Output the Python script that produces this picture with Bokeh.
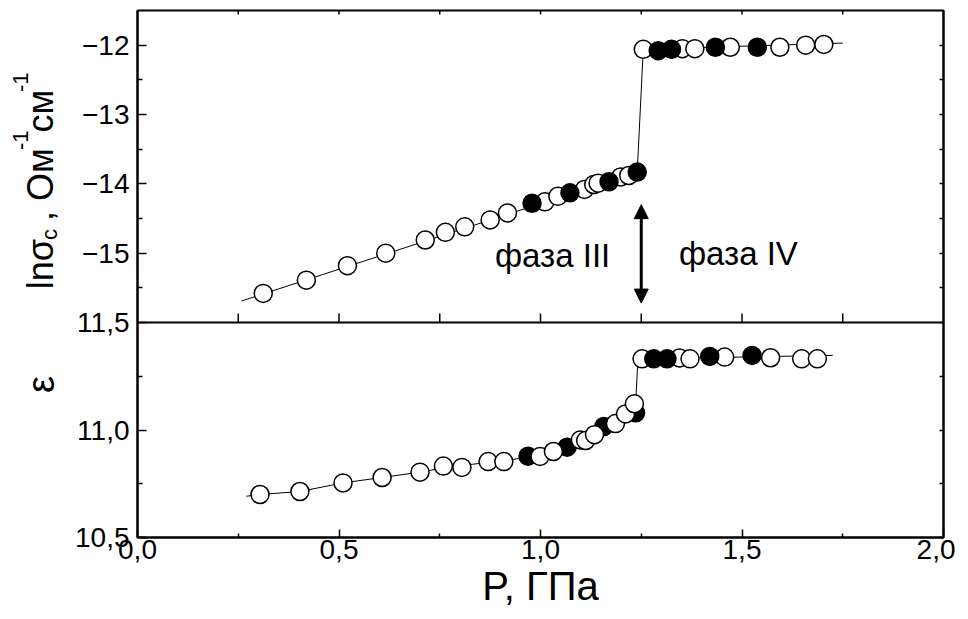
import math
from bokeh.plotting import figure
from bokeh.layouts import row
from bokeh.models import (Range1d, LinearAxis, FixedTicker, CustomJSTickFormatter,
                          Arrow, NormalHead, Span)
from bokeh.core.properties import value
from bokeh.embed import file_html
from bokeh.resources import INLINE

# ---------------- data ----------------
# upper panel: ln(sigma_c) vs P
top_open_P = [0.312, 0.419, 0.521, 0.616, 0.714, 0.764, 0.812, 0.875, 0.918, 1.011,
              1.043, 1.109, 1.132, 1.143, 1.199, 1.219,
              1.255, 1.352, 1.383, 1.471, 1.594, 1.658, 1.703]
top_open_ln = [-15.58, -15.39, -15.18, -15.00, -14.81, -14.70, -14.62, -14.52, -14.42, -14.26,
               -14.18, -14.08, -14.01, -13.99, -13.90, -13.88,
               -12.06, -12.05, -12.05, -12.03, -12.03, -12.00, -11.99]
top_filled_P = [0.979, 1.073, 1.170, 1.240, 1.292, 1.325, 1.434, 1.538]
top_filled_ln = [-14.28, -14.13, -13.97, -13.83, -12.08, -12.06, -12.03, -12.03]
top_line_P = [0.258, 1.240, 1.255, 1.750]
top_line_ln = [-15.69, -13.83, -12.06, -11.97]

# lower panel: epsilon vs P
bot_open_P = [0.304, 0.403, 0.510, 0.607, 0.701, 0.759, 0.805, 0.870, 0.909, 0.999,
              1.032, 1.099, 1.112, 1.134, 1.186, 1.211, 1.233,
              1.252, 1.345, 1.371, 1.457, 1.571, 1.648, 1.687]
bot_open_eps = [10.700, 10.714, 10.754, 10.779, 10.804, 10.832, 10.826, 10.853, 10.853, 10.877,
                10.900, 10.954, 10.951, 10.978, 11.030, 11.075, 11.122,
                11.331, 11.335, 11.331, 11.339, 11.336, 11.331, 11.331]
bot_filled_P = [0.969, 1.066, 1.157, 1.236, 1.281, 1.314, 1.420, 1.525]
bot_filled_eps = [10.878, 10.920, 11.016, 11.080, 11.331, 11.331, 11.342, 11.347]
bot_line_P = [0.270, 0.304, 0.403, 0.510, 0.607, 0.701, 0.780, 0.890, 0.985, 1.050,
              1.100, 1.150, 1.190, 1.225, 1.236, 1.241, 1.252, 1.725]
bot_line_eps = [10.692, 10.700, 10.714, 10.754, 10.779, 10.804, 10.830, 10.853, 10.877, 10.910,
                10.950, 10.990, 11.030, 11.080, 11.120, 11.300, 11.331, 11.347]
P_TRANSITION = 1.25

# ticks
x_major = [0.0, 0.5, 1.0, 1.5, 2.0]
x_labels = ["0,0", "0,5", "1,0", "1,5", "2,0"]
x_minor = [0.25, 0.75, 1.25, 1.75]
x_all = [0.25, 0.5, 0.75, 1.0, 1.25, 1.5, 1.75]
top_major = [-15.0, -14.0, -13.0, -12.0]
top_labels = ["\u221215", "\u221214", "\u221213", "\u221212"]
top_minor = [-15.5, -14.5, -13.5, -12.5]
bot_major = [10.5, 11.0, 11.5]
bot_labels = ["10,5", "11,0", "11,5"]
bot_minor = [10.75, 11.25]

phase_texts = ["фаза III", "фаза IV"]
x_title = "P, ГПа"
eps_title = "ε"

# ---------------- layout ----------------
FONT = "Liberation Sans"
TOTAL_H = 619
TITLE_W = 62
TOP_H, BOT_H, FRAME_W = 312, 215, 806
FRAME_TOP, FRAME_LEFT = 10, 137
top_lo, top_hi = -16.0, -11.5
bot_lo, bot_hi = 10.5, 11.5
bot_end = bot_hi + (bot_hi - bot_lo) * TOP_H / BOT_H
top_start = top_lo - (top_hi - top_lo) * BOT_H / TOP_H


def to_primary(v):
    return bot_hi + (v - top_lo) * (bot_end - bot_hi) / (top_hi - top_lo)


JS_LOOKUP = """
for (let i = 0; i < pos.length; i++) { if (Math.abs(pos[i] - tick) < 1e-6) return lab[i]; }
return '';"""

p = figure(frame_width=FRAME_W, frame_height=TOP_H + BOT_H,
           x_range=Range1d(0, 2), y_range=Range1d(bot_lo, bot_end),
           output_backend="svg", toolbar_location=None,
           x_axis_location=None, y_axis_location=None,
           min_border_left=FRAME_LEFT - TITLE_W, min_border_top=FRAME_TOP, min_border_right=12,
           min_border_bottom=TOTAL_H - FRAME_TOP - TOP_H - BOT_H)
p.extra_y_ranges = {"top": Range1d(top_start, top_hi)}
p.grid.grid_line_color = None
p.outline_line_color = "black"
p.outline_line_width = 2
p.background_fill_color = "white"
p.border_fill_color = "white"

# bottom axis
xax = LinearAxis(ticker=FixedTicker(ticks=x_major, minor_ticks=x_minor),
                 formatter=CustomJSTickFormatter(args=dict(pos=x_major, lab=x_labels), code=JS_LOOKUP))
xax.major_tick_in = 8
xax.major_tick_out = 0
xax.minor_tick_in = 4
xax.minor_tick_out = 0
xax.axis_line_width = 2
xax.major_tick_line_width = 1.5
xax.minor_tick_line_width = 1.5
xax.major_label_text_font = FONT
xax.major_label_text_font_size = "28px"
xax.major_label_text_color = "black"
xax.major_label_standoff = 2
xax.axis_label = x_title
xax.axis_label_text_font = FONT
xax.axis_label_text_font_size = "40px"
xax.axis_label_text_font_style = "normal"
xax.axis_label_text_color = "black"
xax.axis_label_standoff = 2
p.add_layout(xax, "below")

# left axis (both panels share one axis line)
left_ticks = bot_major + [to_primary(v) for v in top_major]
left_labels = bot_labels + top_labels
left_minor = bot_minor + [to_primary(v) for v in top_minor]
yax = LinearAxis(ticker=FixedTicker(ticks=left_ticks, minor_ticks=left_minor),
                 formatter=CustomJSTickFormatter(args=dict(pos=left_ticks, lab=left_labels), code=JS_LOOKUP))
yax.major_tick_in = 9
yax.major_tick_out = 0
yax.minor_tick_in = 5
yax.minor_tick_out = 0
yax.axis_line_width = 2
yax.major_tick_line_width = 1.5
yax.minor_tick_line_width = 1.5
yax.major_label_text_font = FONT
yax.major_label_text_font_size = "28px"
yax.major_label_text_color = "black"
yax.major_label_standoff = 8
p.add_layout(yax, "left")

# right axis: ticks only
rax = LinearAxis(ticker=FixedTicker(ticks=left_ticks, minor_ticks=left_minor))
rax.major_tick_in = 4
rax.major_tick_out = 0
rax.minor_tick_in = 4
rax.minor_tick_out = 0
rax.axis_line_width = 2
rax.major_label_text_font_size = "1px"
rax.major_label_text_color = None
rax.major_label_standoff = 0
rax.major_tick_line_width = 1.5
rax.minor_tick_line_width = 1.5
p.add_layout(rax, "right")

# divider between panels and its ticks
p.add_layout(Span(location=bot_hi, dimension="width", line_color="black", line_width=2))
p.ray(x=x_all, y=[bot_hi] * len(x_all), length=9, length_units="screen",
      angle=math.pi / 2, line_color="black", line_width=1.5)
p.ray(x=x_all, y=[bot_end] * len(x_all), length=4, length_units="screen",
      angle=-math.pi / 2, line_color="black", line_width=1.5)

# ---------------- upper panel ----------------
p.line(top_line_P, top_line_ln, y_range_name="top", line_color="black", line_width=1)
p.scatter(top_open_P, top_open_ln, y_range_name="top", marker="circle", size=18,
          fill_color="white", line_color="black", line_width=1.5)
p.scatter(top_filled_P, top_filled_ln, y_range_name="top", marker="circle", size=18,
          fill_color="black", line_color="black", line_width=1.5)

p.add_layout(Arrow(start=NormalHead(size=14, fill_color="black", line_color="black"),
                   end=NormalHead(size=14, fill_color="black", line_color="black"),
                   x_start=1.25, y_start=-14.30, x_end=1.25, y_end=-15.72,
                   y_range_name="top", line_width=3, line_color="black"))
p.text(x=[1.03, 1.491], y=[-15.03, -15.0], text=phase_texts, y_range_name="top",
       text_font=value(FONT), text_font_size="33px", text_align="center",
       text_baseline="middle", text_color="black")

# ---------------- lower panel ----------------
lo_f = [i for i, x in enumerate(bot_filled_P) if x < P_TRANSITION]
hi_f = [i for i, x in enumerate(bot_filled_P) if x >= P_TRANSITION]
p.line(bot_line_P, bot_line_eps, line_color="black", line_width=1)
p.scatter([bot_filled_P[i] for i in lo_f], [bot_filled_eps[i] for i in lo_f], marker="circle",
          size=18, fill_color="black", line_color="black", line_width=1.5)
p.scatter(bot_open_P, bot_open_eps, marker="circle", size=18,
          fill_color="white", line_color="black", line_width=1.5)
p.scatter([bot_filled_P[i] for i in hi_f], [bot_filled_eps[i] for i in hi_f], marker="circle",
          size=18, fill_color="black", line_color="black", line_width=1.5)

# ---------------- y-axis titles (narrow strip left of the plot) ----------------
t = figure(frame_width=TITLE_W, frame_height=TOTAL_H, x_range=Range1d(0, TITLE_W),
           y_range=Range1d(0, TOTAL_H), output_backend="svg", toolbar_location=None,
           x_axis_location=None, y_axis_location=None, min_border=0)
t.grid.grid_line_color = None
t.outline_line_color = None
t.background_fill_color = "white"
t.border_fill_color = "white"

F_MAIN, F_SMALL = 36, 22
# (text, font size, centre x on the page, advance along the title)
pieces = [("lnσ", F_MAIN, 40, 1.348 * F_MAIN),
          ("c", F_SMALL, 49, 0.5 * F_SMALL),
          ("\u00a0,\u00a0Ом", F_MAIN, 40, 2.192 * F_MAIN),
          ("-1", F_SMALL, 20, 0.889 * F_SMALL),
          ("см", F_MAIN, 40, 1.07 * F_MAIN),
          ("-1", F_SMALL, 20, 0.889 * F_SMALL)]
ystart = TOTAL_H - 278
for txt, fs, xc, w in pieces:
    t.text(x=[xc], y=[ystart + w / 2], text=[txt], angle=math.pi / 2, text_font=value(FONT),
           text_font_size=f"{fs}px", text_align="center", text_baseline="middle",
           text_color="black")
    ystart += w

t.text(x=[40], y=[TOTAL_H - 374], text=[eps_title], angle=math.pi / 2, text_font=value(FONT),
       text_font_size="38px", text_align="center", text_baseline="middle", text_color="black")

layout = row(t, p, spacing=0)
open("out.html", "w").write(file_html(layout, INLINE))
